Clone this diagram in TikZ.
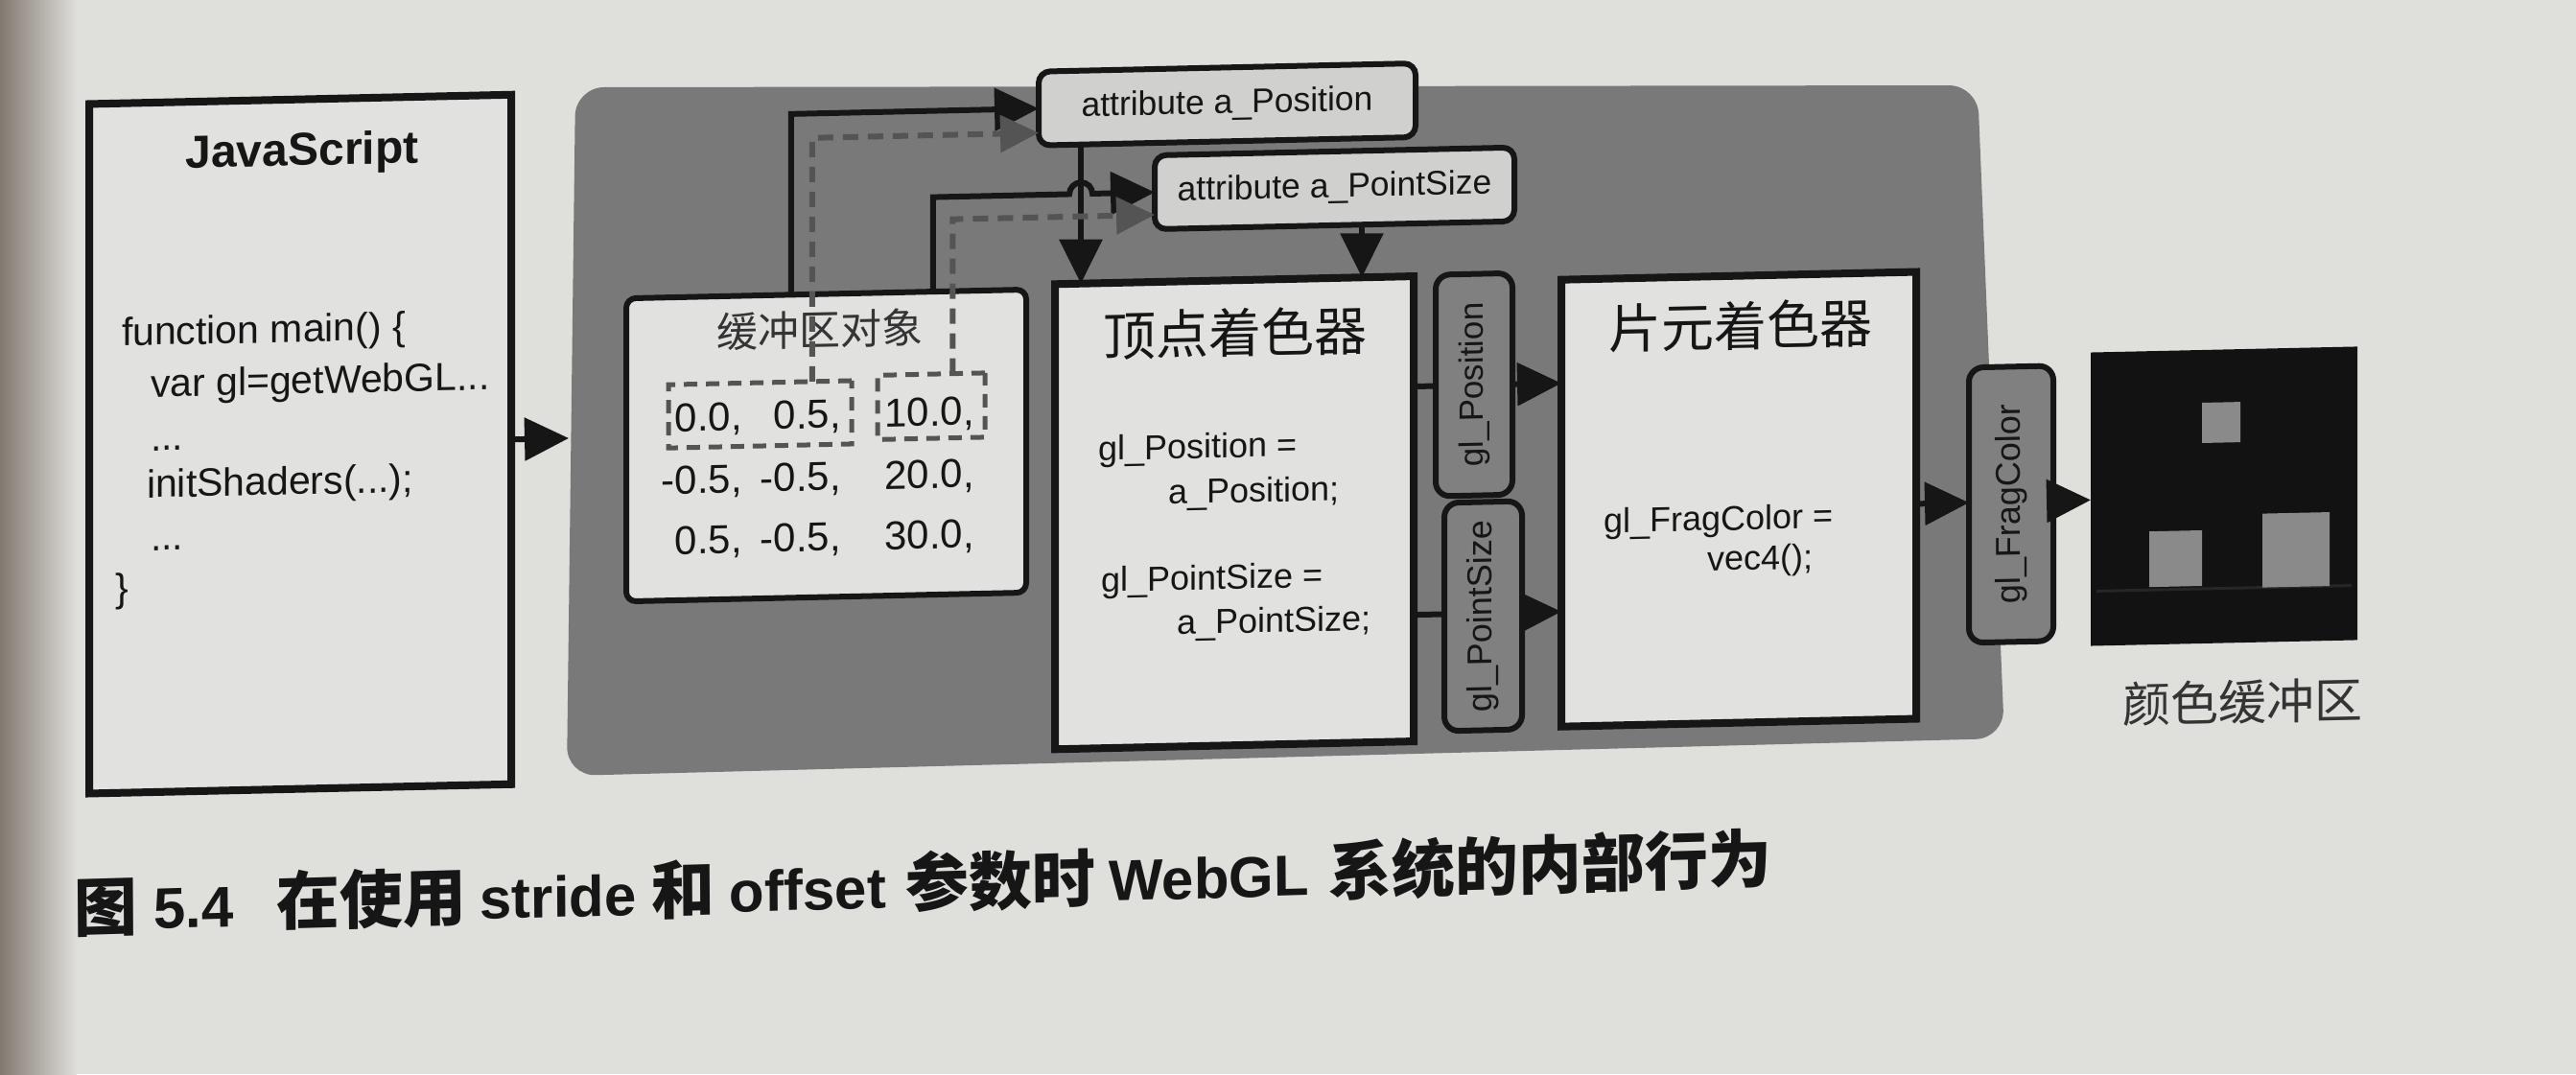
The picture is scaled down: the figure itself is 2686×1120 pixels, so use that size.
\documentclass[tikz,border=0pt]{standalone}
\usepackage{fontspec}
\setmainfont{Liberation Sans}
\newfontfamily\cjk{Noto Sans CJK SC}
\usetikzlibrary{arrows.meta,calc}

\definecolor{paper}{RGB}{223,223,220}
\definecolor{paperdark}{RGB}{130,121,112}
\definecolor{panel}{RGB}{121,121,121}
\definecolor{boxfill}{RGB}{225,225,223}
\definecolor{attrfill}{RGB}{208,208,206}
\definecolor{varyfill}{RGB}{128,128,128}
\definecolor{dashgray}{RGB}{84,84,84}
\definecolor{ink}{RGB}{22,22,22}
\definecolor{softink}{RGB}{52,52,52}
\definecolor{screen}{RGB}{18,18,18}
\definecolor{screenline}{RGB}{38,38,38}
\definecolor{pixel}{RGB}{138,138,138}

\newcommand\setfs[1]{\fontsize{#1pt}{#1pt}\selectfont}

\begin{document}
\begin{tikzpicture}[x=1pt,y=1pt,
  every node/.style={inner sep=0pt, outer sep=0pt, transform shape},
  thickbox/.style={draw=ink, line width=8pt, fill=boxfill, rectangle},
  roundbox/.style={draw=ink, line width=6pt, rounded corners=12pt, rectangle},
  varybox/.style={roundbox, rounded corners=15pt, fill=varyfill},
  dashbox/.style={draw=dashgray, line width=5pt, dash pattern=on 14pt off 9pt, rectangle},
  arr/.style={draw=ink, line width=6pt, -{Triangle[length=46pt,width=44pt]}},
  dasharr/.style={draw=dashgray, line width=6pt, dash pattern=on 16pt off 10pt,
                  -{Triangle[length=40pt,width=38pt]}},
  jscode/.style={anchor=base west, font=\setfs{41}, text=ink},
  glsl/.style={anchor=base west, font=\setfs{36}, text=ink},
  num/.style={anchor=base east, font=\setfs{42}, text=ink},
  vlabel/.style={rotate=90, text=ink},
  cjktitle/.style={font=\cjk\setfs{55}, text=ink},
]

% page
\fill[paper] (0,0) rectangle (2686,-1120);
\shade[left color=paperdark, right color=paper] (0,0) rectangle (80,-1120);
\useasboundingbox (0,0) rectangle (2686,-1120);

% WebGL system panel
\fill[panel, rounded corners=30pt] (600,-91) -- (2062,-89) -- (2090,-770) -- (591,-809) -- cycle;
\coordinate (panelin) at (593,-460);

\begin{scope}[cm={1,0.022,0,1,(0,-29.5)}]

% JavaScript program
\node[thickbox, minimum width=440pt, minimum height=719pt] (js) at (313,-440.5) {};
\node[anchor=base, font=\setfs{48}\bfseries, text=ink] (jstitle) at (315,-150) {JavaScript};
\node[jscode] (js1) at (127,-334) {function main() \{};
\node[jscode] (js2) at (157,-388) {var gl=getWebGL...};
\node[jscode] (js3) at (157,-444) {...};
\node[jscode] (js4) at (153,-493) {initShaders(...);};
\node[jscode] (js5) at (157,-548) {...};
\node[jscode] (js6) at (120,-601) {\}};

% attribute variables
\node[roundbox, fill=attrfill, minimum width=393pt, minimum height=77pt, font=\setfs{35.5}, text=ink]
  (apos) at (1279.5,-107.5) {attribute a\_Position};
\node[roundbox, fill=attrfill, minimum width=375pt, minimum height=77pt, font=\setfs{35.5}, text=ink]
  (apt) at (1391.5,-197.5) {attribute a\_PointSize};

% buffer object with its interleaved data
\node[roundbox, rounded corners=10pt, fill=boxfill, minimum width=417pt, minimum height=316pt] (buf) at (861.5,-454) {};
\node[font=\cjk\setfs{43}, text=softink] (buftitle) at (855,-333) {缓冲区对象};
\node[num] (v11) at (774,-436) {0.0,};
\node[num] (v12) at (877,-436) {0.5,};
\node[num] (v13) at (1016,-436) {10.0,};
\node[num] (v21) at (774,-501) {-0.5,};
\node[num] (v22) at (877,-501) {-0.5,};
\node[num] (v23) at (1016,-501) {20.0,};
\node[num] (v31) at (774,-564) {0.5,};
\node[num] (v32) at (877,-564) {-0.5,};
\node[num] (v33) at (1016,-564) {30.0,};
\node[dashbox, minimum width=191pt, minimum height=66pt] (db1) at (792.5,-420) {};
\node[dashbox, minimum width=112pt, minimum height=67pt] (db2) at (971,-415.5) {};

% vertex shader
\node[thickbox, minimum width=374pt, minimum height=485pt] (vs) at (1287,-533.5) {};
\node[cjktitle] (vstitle) at (1288,-346) {顶点着色器};
\node[glsl] (vs1) at (1145,-476) {gl\_Position =};
\node[glsl] (vs2) at (1218,-523) {a\_Position;};
\node[glsl] (vs3) at (1148,-613) {gl\_PointSize =};
\node[glsl] (vs4) at (1227,-659) {a\_PointSize;};

% fragment shader
\node[thickbox, minimum width=370pt, minimum height=466pt] (fs) at (1813,-531) {};
\node[cjktitle] (fstitle) at (1815,-350) {片元着色器};
\node[glsl] (fs1) at (1672,-563) {gl\_FragColor =};
\node[glsl] (fs2) at (1780,-605) {vec4();};

% colour buffer
\node[fill=screen, minimum width=278pt, minimum height=306pt] (cb) at (2319,-539) {};
\draw[screenline, line width=3pt] (2186,-635) -- (2452,-635);
\node[fill=pixel, minimum width=40pt, minimum height=42pt] (px1) at (2316,-462) {};
\node[fill=pixel, minimum width=55pt, minimum height=58pt] (px2) at (2268.5,-603) {};
\node[fill=pixel, minimum width=70pt, minimum height=77pt] (px3) at (2394,-596.5) {};
\node[font=\cjk\setfs{50}, text=softink] (cblabel) at (2338,-754) {颜色缓冲区};

% connectors
\draw[arr] (js.east) -- (js.east -| panelin);

\coordinate (adrop) at ($(apos.south west)!0.112!(apos.south east)$);
\coordinate (bdrop) at ($(apt.south west)!0.576!(apt.south east)$);
\coordinate (hop) at (adrop |- apt.west);

\draw[arr] ($(buf.north west)!0.412!(buf.north east)$) |- (apos.west);
\draw[arr] (adrop) -- (adrop |- vs.north);
\draw[arr] ($(buf.north west)!0.767!(buf.north east)$) |- ([xshift=-12pt]hop)
  arc[start angle=180, end angle=0, radius=12pt] -- (apt.west);
\draw[arr] (bdrop) -- (bdrop |- vs.north);

\draw[dasharr] ($(db1.north west)!0.785!(db1.north east)$) |- ($(apos.north west)!0.83!(apos.south west)$);
\draw[dasharr] ($(db2.north west)!0.70!(db2.north east)$) |- ($(apt.north west)!0.805!(apt.south west)$);

\draw[arr] ($(vs.north east)!0.237!(vs.south east)$) coordinate (o1) -- (o1 -| fs.west);
\draw[arr] ($(vs.north east)!0.728!(vs.south east)$) coordinate (o2) -- (o2 -| fs.west);

% varying variables passed between the shaders
\node[varybox, minimum width=80pt, minimum height=231pt] (gpos) at (1537,-405.5) {};
\node[vlabel, font=\setfs{35}] (gpostext) at (gpos.center) {gl\_Position};
\node[varybox, minimum width=81pt, minimum height=238pt] (gpsz) at (1546.5,-647) {};
\node[vlabel, font=\setfs{36}] (gpsztext) at (gpsz.center) {gl\_PointSize};

\node[varybox, minimum width=88pt, minimum height=287pt] (gfc) at (2097,-542.5) {};
\node[vlabel, font=\setfs{36}] (gfctext) at (gfc.center) {gl\_FragColor};

\draw[arr] ($(fs.north east)!0.519!(fs.south east)$) coordinate (o3) -- (o3 -| gfc.west);
\draw[arr] (o3 -| gfc.east) -- (o3 -| cb.west);

% caption
\node[anchor=west, rotate=0.4, font=\setfs{60}\bfseries, text=ink] (caption) at (77,-918)
  {{\cjk\setfs{66}图}\hspace{17pt}5.4\hspace{45pt}{\cjk\setfs{66}在使用}\hspace{14pt}stride\hspace{16pt}{\cjk\setfs{66}和}\hspace{15pt}offset\hspace{20pt}{\cjk\setfs{66}参数时}\hspace{14pt}WebGL\hspace{20pt}{\cjk\setfs{66}系统的内部行为}};

\end{scope}
\end{tikzpicture}
\end{document}
